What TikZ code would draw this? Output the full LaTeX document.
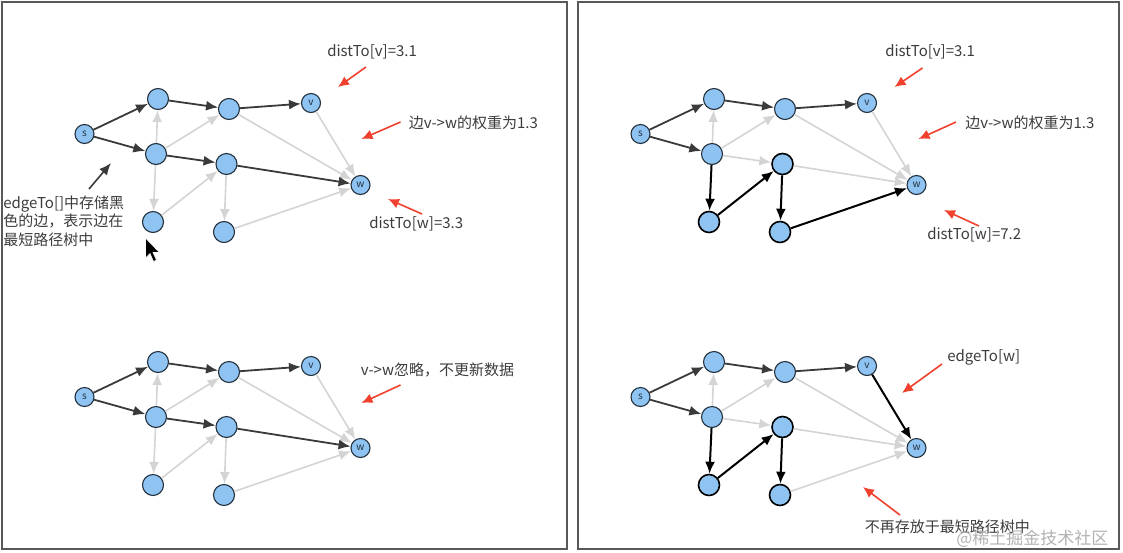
\documentclass[tikz,border=0pt]{standalone}
\usepackage{fontspec}
\setmainfont{Noto Sans CJK SC}
\usetikzlibrary{arrows.meta}

\definecolor{nodeblue}{HTML}{8EC3F2}
\definecolor{rimblue}{HTML}{24323F}
\definecolor{darkedge}{HTML}{3A3A3A}
\definecolor{lightedge}{HTML}{D4D4D4}
\definecolor{hintred}{HTML}{F0412E}
\definecolor{note}{HTML}{3C3C3C}

\begin{document}
\begin{tikzpicture}[x=1pt, y=-1pt, semithick, font=\fontsize{15}{18.5}\selectfont]

    \tikzstyle{vertex}=[circle, draw=rimblue, fill=nodeblue, line width=1.1pt, minimum size=21pt,
                        inner sep=0pt, text=rimblue, font=\fontsize{10}{10}\selectfont]
    \tikzstyle{endvertex}=[vertex, minimum size=19pt]
    \tikzstyle{unringed}=[]
    \tikzstyle{ringed}=[line width=1.6pt, draw=black]
    \tikzstyle{treeedge}=[-{Latex[length=12pt,width=10pt]}, draw=darkedge, fill=darkedge, line width=1.8pt]
    \tikzstyle{grayedge}=[-{Latex[length=12pt,width=10pt]}, draw=lightedge, fill=lightedge, line width=1.6pt]
    \tikzstyle{newedge}=[-{Latex[length=12pt,width=10pt]}, draw=black, fill=black, line width=2pt]
    \tikzstyle{hint}=[-{Latex[length=11pt,width=10pt]}, draw=hintred, fill=hintred, line width=1.6pt]
    \tikzstyle{remark}=[text=note, inner sep=0pt, anchor=west]
    \tikzstyle{panel}=[draw=black!65, line width=1.8pt]

    \useasboundingbox (0,0) rectangle (1123,552);
    \draw[panel] (2,2) rectangle (567,549);
    \draw[panel] (578,2) rectangle (1119,549);

    % the same graph in all four panels
    \foreach \p/\dx/\dy/\ring in {a/0/0/unringed, b/556/0/ringed, c/0/263/unringed, d/556/263/ringed} {
        \begin{scope}[shift={(\dx,\dy)}]
            \node[endvertex] (\p s) at (84.5,134) {s};
            \node[vertex] (\p A) at (158,99) {};
            \node[vertex] (\p B) at (229,109) {};
            \node[endvertex] (\p v) at (311,103) {v};
            \node[vertex] (\p C) at (156,154) {};
            \node[vertex, \ring] (\p D) at (226.5,164) {};
            \node[endvertex] (\p w) at (360.5,185) {w};
            \node[vertex, \ring] (\p E) at (153,222) {};
            \node[vertex, \ring] (\p F) at (224,232) {};
        \end{scope}
        \foreach \u/\v in {C/A, C/B, B/w}
            \draw[grayedge] (\p\u) -- (\p\v);
        \foreach \u/\v in {s/A, s/C, A/B, B/v}
            \draw[treeedge] (\p\u) -- (\p\v);
    }

    % top left
    \foreach \u/\v in {C/D, D/w}
        \draw[treeedge] (a\u) -- (a\v);
    \foreach \u/\v in {v/w, C/E, E/D, D/F, F/w}
        \draw[grayedge] (a\u) -- (a\v);

    \node[remark] (adistv) at (327,52) {distTo[v]=3.1};
    \node[remark] (aweight) at (408.5,123) {边v->w的权重为1.3};
    \node[remark] (adistw) at (369,224) {distTo[w]=3.3};
    \node[remark, align=left] (aedge) at (3,221) {edgeTo[]中存储黑\\色的边，表示边在\\最短路径树中};

    \coordinate (ah1) at (366,67);   \coordinate (ah2) at (338,87);
    \coordinate (ah3) at (400.5,122); \coordinate (ah4) at (361.5,139);
    \coordinate (ah5) at (422,214);  \coordinate (ah6) at (388,199);
    \coordinate (ah7) at (89,189);   \coordinate (ah8) at (111,163);
    \draw[hint] (ah1) -- (ah2);
    \draw[hint] (ah3) -- (ah4);
    \draw[hint] (ah5) -- (ah6);
    \draw[treeedge, line width=1.6pt] (ah7) -- (ah8);

    % mouse pointer
    \filldraw[fill=black, draw=white, line width=0.6pt]
        (145.5,238) -- ++(0,20) -- ++(4.5,-4.5) -- ++(3.5,8) -- ++(3,-1.5)
        -- ++(-3.5,-7.5) -- ++(6.5,0) -- cycle;

    % top right
    \foreach \u/\v in {C/E, E/D, D/F, F/w}
        \draw[newedge] (b\u) -- (b\v);
    \foreach \u/\v in {C/D, D/w, v/w}
        \draw[grayedge] (b\u) -- (b\v);

    \node[remark] (bdistv) at (885,52) {distTo[v]=3.1};
    \node[remark] (bweight) at (965,123) {边v->w的权重为1.3};
    \node[remark] (bdistw) at (927,235) {distTo[w]=7.2};

    \coordinate (bh1) at (922.5,68);  \coordinate (bh2) at (894.5,87);
    \coordinate (bh3) at (956,122);   \coordinate (bh4) at (918.5,139);
    \coordinate (bh5) at (979,226);   \coordinate (bh6) at (944,210);
    \draw[hint] (bh1) -- (bh2);
    \draw[hint] (bh3) -- (bh4);
    \draw[hint] (bh5) -- (bh6);

    % bottom left
    \foreach \u/\v in {C/D, D/w}
        \draw[treeedge] (c\u) -- (c\v);
    \foreach \u/\v in {v/w, C/E, E/D, D/F, F/w}
        \draw[grayedge] (c\u) -- (c\v);

    \node[remark] (cskip) at (360.5,370) {v->w忽略，不更新数据};
    \coordinate (ch1) at (400.5,385); \coordinate (ch2) at (361.5,403);
    \draw[hint] (ch1) -- (ch2);

    % bottom right
    \foreach \u/\v in {C/E, E/D, D/F, v/w}
        \draw[newedge] (d\u) -- (d\v);
    \foreach \u/\v in {C/D, D/w, F/w}
        \draw[grayedge] (d\u) -- (d\v);

    \node[remark] (dedge) at (947,357) {edgeTo[w]};
    \node[remark] (dgone) at (864.5,527) {不再存放于最短路径树中};
    \coordinate (dh1) at (942,364);   \coordinate (dh2) at (902,393);
    \coordinate (dh3) at (900,515);   \coordinate (dh4) at (863,487);
    \draw[hint] (dh1) -- (dh2);
    \draw[hint] (dh3) -- (dh4);

    \node[remark, text=black!30, font=\fontsize{17}{17}\selectfont] (mark) at (956,539) {@稀土掘金技术社区};
\end{tikzpicture}
\end{document}
